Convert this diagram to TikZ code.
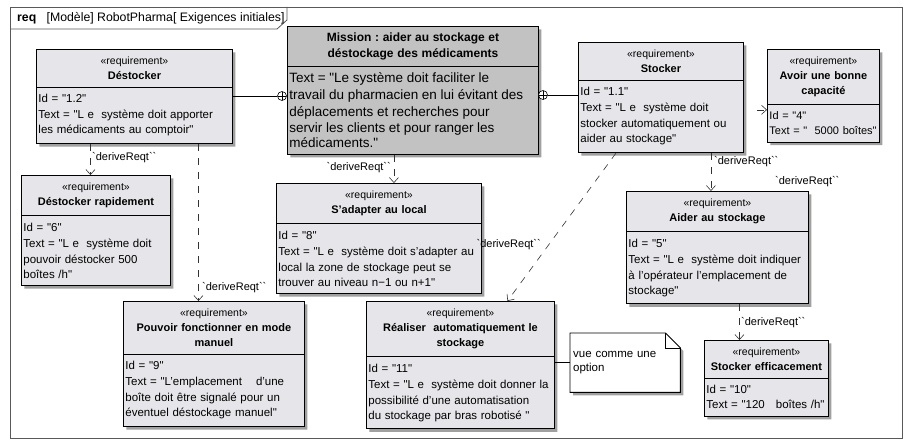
\documentclass[tikz,border=0pt]{standalone}
\usepackage{fontspec}
\setmainfont{Liberation Sans}[Ligatures=TeXOff]
\usepackage{xcolor}
\usetikzlibrary{arrows.meta, positioning, shapes.multipart, shadows, calc, backgrounds}
\setlength{\parindent}{0pt}
\frenchspacing
\definecolor{reqfill}{HTML}{E6E6EA}
\definecolor{missfill}{HTML}{C2C2C2}
\definecolor{shade}{HTML}{A0A0A0}
\newcommand{\stereo}{{\fontsize{10.5}{12}\selectfont «requirement»}\\}
\newcommand{\drv}{`deriveReqt``}

\begin{document}
\begin{tikzpicture}[x=1pt, y=-1pt,
    req/.style={draw, fill=reqfill, line width=0.9pt, rectangle split, rectangle split parts=2,
        text width=#1, inner xsep=2pt, inner ysep=7pt, anchor=north west,
        font=\fontsize{11}{15}\selectfont,
        drop shadow={shadow xshift=3pt, shadow yshift=-3pt, fill=shade, opacity=1}},
    lbl/.style={font=\fontsize{11}{12}\selectfont, inner sep=1pt},
    dreq/.style={line width=0.6pt, draw=black!80, dash pattern=on 7pt off 7pt, -{Straight Barb[length=5pt, width=9pt]}},
    oplus/.style={circle, draw, fill=white, line width=0.6pt, minimum size=9pt, inner sep=0pt,
        path picture={\draw (path picture bounding box.north) -- (path picture bounding box.south)
            (path picture bounding box.west) -- (path picture bounding box.east);}},
    frame/.style={draw=black!65, line width=0.8pt}
]
\useasboundingbox (0,0) rectangle (909,444);

% frame
\draw[frame] (10,7) rectangle (902,438);
\draw[frame] (10,29) -- (277,29) -- (287,20) -- (287,7);
\node[anchor=west, font=\fontsize{12.3}{13}\selectfont, inner sep=0pt] (ftitle) at (17,18) {\textbf{req}\ \ \ [Modèle] RobotPharma[ Exigences initiales]};

% mission
\node[req=247pt, fill=missfill, inner ysep=6pt] (mission) at (287,26)
    {\centering\fontsize{12}{16}\selectfont\textbf{Mission : aider au stockage et\\ déstockage des médicaments}\par
     \nodepart{two}\raggedright\fontsize{13.5}{16.6}\selectfont Text = "Le système doit faciliter le\\ travail du pharmacien en lui évitant des\\ déplacements et recherches pour\\ servir les clients et pour ranger les\\ médicaments."};

% top row
\node[req=192pt] (destock) at (36,49)
    {\centering\stereo\textbf{Déstocker}\par
     \nodepart{two}\raggedright\fontsize{11.5}{16}\selectfont Id = "1.2"\\ Text = "L e\ \ système doit apporter\\ les médicaments au comptoir"};
\node[req=161pt] (stock) at (578,42)
    {\centering\stereo\textbf{Stocker}\par
     \nodepart{two}\raggedright\fontsize{11.5}{16}\selectfont Id = "1.1"\\ Text = "L e\ \ système doit\\ stocker automatiquement ou\\ aider au stockage"};
\node[req=108pt] (avoir) at (767,49)
    {\centering\stereo\textbf{Avoir une bonne\\ capacité}\par
     \nodepart{two}\raggedright\fontsize{11}{16}\selectfont Id = "4"\\ \mbox{Text = "\ \ 5000 boîtes"}};

% middle row
\node[req=145pt] (rapid) at (21,175)
    {\centering\stereo\textbf{Déstocker rapidement}\par
     \nodepart{two}\raggedright\fontsize{11.5}{16}\selectfont Id = "6"\\ Text = "L e\ \ système doit\\ pouvoir déstocker 500\\ boîtes /h"};
\node[req=201pt] (adapt) at (276,183)
    {\centering\stereo\textbf{S’adapter au local}\par
     \nodepart{two}\raggedright\fontsize{11.5}{16}\selectfont Id = "8"\\ Text = "L e\ \ système doit s’adapter au\\ local la zone de stockage peut se\\ trouver au niveau n−1 ou n+1"};
\node[req=178pt] (aider) at (626,191)
    {\centering\stereo\textbf{Aider au stockage}\par
     \nodepart{two}\raggedright\fontsize{11.5}{16}\selectfont Id = "5"\\ Text = "L e\ \ système doit indiquer\\ à l’opérateur l’emplacement de\\ stockage"};

% bottom row
\node[req=177pt] (manuel) at (123,301)
    {\centering\stereo\textbf{Pouvoir fonctionner en mode\\ manuel}\par
     \nodepart{two}\raggedright\fontsize{11.5}{16}\selectfont Id = "9"\\ Text = "L’emplacement\hspace{14pt}d’une\\ boîte doit être signalé pour un\\ éventuel déstockage manuel"};
\node[req=184pt] (auto) at (366,301)
    {\centering\stereo\textbf{Réaliser\ \ automatiquement le\\ stockage}\par
     \nodepart{two}\raggedright\fontsize{11.5}{16}\selectfont Id = "11"\\ Text = "L e\ \ système doit donner la\\ possibilité d’une automatisation\\ du stockage par bras robotisé "};
\node[req=120pt] (effic) at (704,340)
    {\centering\stereo\textbf{Stocker efficacement}\par
     \nodepart{two}\raggedright\fontsize{11.5}{16}\selectfont Id = "10"\\ Text = "120\ \ \ boîtes /h"};

% note
\node[anchor=north west, minimum width=110pt, minimum height=59pt, text width=104pt, inner xsep=3pt,
    font=\fontsize{11.5}{14}\selectfont] (note) at (570,333) {vue comme une\\ option};
\begin{scope}[on background layer]
\draw[line width=0.9pt, fill=white, drop shadow={shadow xshift=3pt, shadow yshift=-3pt, fill=shade, opacity=1}]
    (note.north west) -- ([xshift=-15pt]note.north east) -- ([yshift=-15pt]note.north east)
    -- (note.south east) -- (note.south west) -- cycle;
\end{scope}
\draw[line width=0.9pt] ([xshift=-15pt]note.north east) |- ([yshift=-15pt]note.north east);
\draw[line width=0.7pt] (note.west -| auto.east) -- (note.west);

% containment
\node[oplus] (plusL) at (282,96) {};
\node[oplus] (plusR) at (543,95) {};
\draw[line width=0.7pt] (plusL -| destock.east) -- (plusL.west);
\draw[line width=0.7pt] (plusR.east) -- (plusR -| stock.west);

% deriveReqt
\coordinate (d1) at ([xshift=-44pt]destock.south);
\coordinate (d2) at ([xshift=64pt]destock.south);
\coordinate (d3) at ([xshift=-19pt]mission.south);
\coordinate (d4) at ([xshift=50pt]stock.south);
\coordinate (d6) at ([xshift=22pt]aider.south);
\coordinate (d7) at ([xshift=-45pt]stock.south);
\coordinate (d7e) at ([xshift=47pt]auto.north);
\coordinate (avIn) at ([yshift=-14pt]avoir.west);
\draw[dreq] (d1) -- (d1 |- rapid.north);
\draw[dreq] (d2) -- (d2 |- manuel.north);
\draw[dreq] (d3) -- (d3 |- adapt.north);
\draw[dreq] (d4) -- (d4 |- aider.north);
\draw[dreq] (d6) -- (d6 |- effic.north);
\draw[dreq] (d7) -- (d7e);
\draw[dreq, shorten <=13pt] (avIn -| stock.east) -- (avIn);

\node[lbl, anchor=west] (drv1) at (91,158) {\drv};
\node[lbl, anchor=west] (drv2) at (201,288) {\drv};
\node[lbl, anchor=east] (drv3) at (392,168) {\drv};
\node[lbl, anchor=west] (drv4) at (713,162) {\drv};
\node[lbl, anchor=west] (drv5) at (774,182) {\drv};
\node[lbl, anchor=west] (drv6) at (740,323) {\drv};
\node[lbl, anchor=east] (drv7) at (542,245) {\drv};

\end{tikzpicture}
\end{document}
